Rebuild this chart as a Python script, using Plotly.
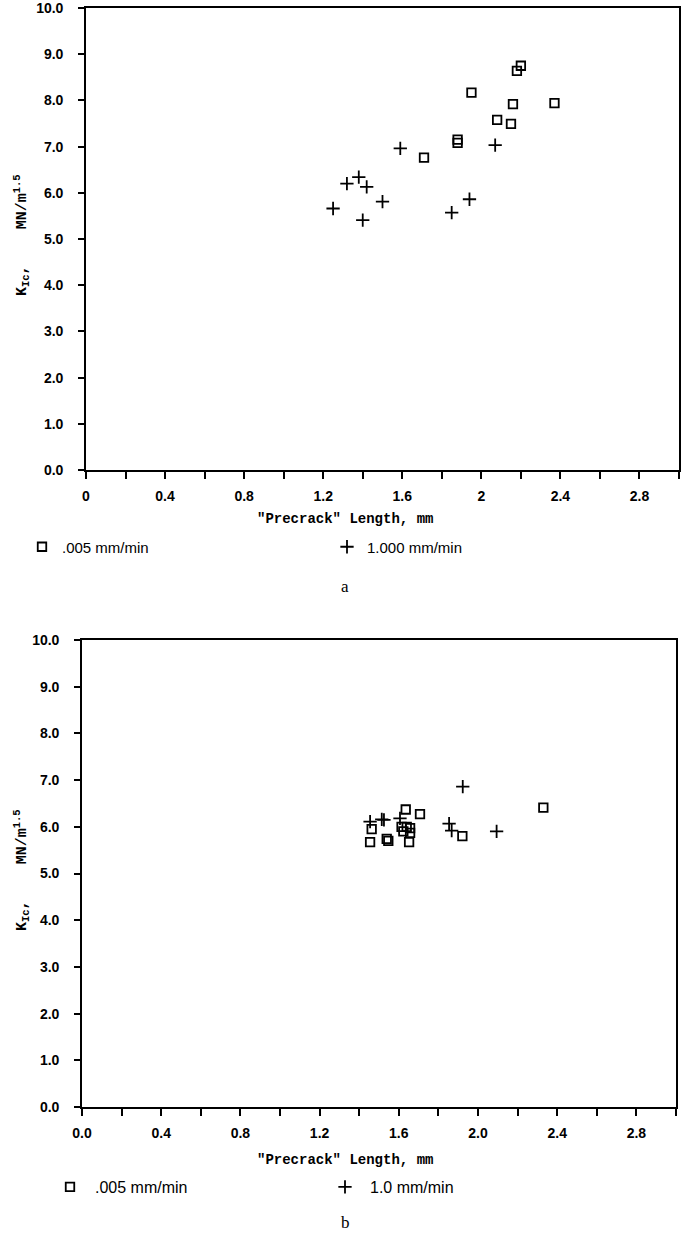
import plotly.graph_objects as go

# ---------------- data ----------------
# panel a
a_sq_x = [2.20, 2.18, 1.95, 2.16, 2.37, 2.08, 2.15, 1.88, 1.88, 1.71]
a_sq_y = [8.75, 8.64, 8.17, 7.92, 7.94, 7.58, 7.49, 7.15, 7.08, 6.76]
a_cr_x = [1.59, 2.07, 1.38, 1.32, 1.42, 1.50, 1.25, 1.40, 1.94, 1.85]
a_cr_y = [6.96, 7.03, 6.34, 6.20, 6.13, 5.81, 5.66, 5.41, 5.86, 5.57]
# panel b
b_sq_x = [2.33, 1.635, 1.707, 1.463, 1.455, 1.539, 1.547, 1.614, 1.64, 1.657, 1.623, 1.657, 1.652, 1.921]
b_sq_y = [6.41, 6.37, 6.27, 5.95, 5.67, 5.74, 5.70, 6.00, 6.00, 5.97, 5.90, 5.87, 5.67, 5.80]
b_cr_x = [1.923, 1.455, 1.514, 1.525, 1.606, 1.854, 1.867, 2.094]
b_cr_y = [6.86, 6.11, 6.16, 6.15, 6.18, 6.07, 5.92, 5.90]

a_names = [".005 mm/min", "1.000 mm/min"]
b_names = [".005 mm/min", "1.0 mm/min"]
x_tickvals = [0, 0.4, 0.8, 1.2, 1.6, 2.0, 2.4, 2.8]
a_ticktext = ["0", "0.4", "0.8", "1.2", "1.6", "2", "2.4", "2.8"]
b_ticktext = ["0.0", "0.4", "0.8", "1.2", "1.6", "2.0", "2.4", "2.8"]
y_tickvals = [0, 1, 2, 3, 4, 5, 6, 7, 8, 9, 10]
x_title = '"Precrack" Length, mm'
y_title = "K<sub>Ic</sub>,    MN/m<sup>1.5</sup>"

# ---------------- layout helpers ----------------
W, H = 684, 1236
L, R, T, B = 82, 5, 8, 129
PW, PH = W - L - R, H - T - B


def px(X):
    return (X - L) / PW


def py(Y):
    return (H - B - Y) / PH


sq_marker = dict(symbol="square-open", size=8.5, color="black", line=dict(width=1.8, color="black"))
cr_marker = dict(symbol="cross-thin-open", size=9.5, color="black", line=dict(width=1.8, color="black"))

fig = go.Figure()
fig.add_trace(go.Scatter(x=a_sq_x, y=a_sq_y, mode="markers", marker=sq_marker, name=a_names[0],
                         xaxis="x", yaxis="y", legend="legend", showlegend=True))
fig.add_trace(go.Scatter(x=a_cr_x, y=a_cr_y, mode="markers", marker=cr_marker, name=a_names[1],
                         xaxis="x", yaxis="y", legend="legend2", showlegend=True))
fig.add_trace(go.Scatter(x=b_sq_x, y=b_sq_y, mode="markers", marker=sq_marker, name=b_names[0],
                         xaxis="x2", yaxis="y2", legend="legend3", showlegend=True))
fig.add_trace(go.Scatter(x=b_cr_x, y=b_cr_y, mode="markers", marker=cr_marker, name=b_names[1],
                         xaxis="x2", yaxis="y2", legend="legend4", showlegend=True))

tickfont = dict(family="Liberation Sans, Arial, sans-serif", size=14, color="black", weight="bold")
common_x = dict(range=[0, 3], showline=True, mirror=True, linecolor="black", linewidth=1.6,
                ticks="outside", ticklen=7, tickwidth=1.5, tickcolor="black",
                tickvals=x_tickvals, showgrid=False, zeroline=False, tickfont=tickfont,
                minor=dict(dtick=0.2, tick0=0, ticks="outside", ticklen=7, tickwidth=1.5,
                           tickcolor="black", showgrid=False),
                ticklabelstandoff=5, ticklabeloverflow="allow")
common_y = dict(range=[0, 10], showline=True, mirror=True, linecolor="black", linewidth=1.6,
                ticks="outside", ticklen=6, tickwidth=1.5, tickcolor="black",
                tickvals=y_tickvals, tickformat=".1f", showgrid=False, zeroline=False,
                tickfont=tickfont, ticklabelstandoff=12, ticklabeloverflow="allow")


def leg(x_px, y_px, size, iw):
    return dict(xref="container", yref="container", x=x_px / W, y=1 - y_px / H,
                xanchor="left", yanchor="middle", itemwidth=iw,
                font=dict(family="Liberation Sans, Arial, sans-serif", size=size, color="black"),
                bgcolor="rgba(0,0,0,0)", borderwidth=0, visible=True)


fig.update_layout(
    width=W, height=H, showlegend=True,
    margin=dict(l=L, r=R, t=T, b=B, autoexpand=False),
    plot_bgcolor="white", paper_bgcolor="white",
    xaxis=dict(domain=[px(86), px(679)], anchor="y", ticktext=a_ticktext, **common_x),
    yaxis=dict(domain=[py(470), py(8)], anchor="x", **common_y),
    xaxis2=dict(domain=[0, px(676)], anchor="y2", ticktext=b_ticktext, **common_x),
    yaxis2=dict(domain=[0, py(640)], anchor="x2", **common_y),
    legend=leg(22, 547, 15, 30),
    legend2=leg(327, 547, 15, 30),
    legend3=leg(45, 1187, 16, 40),
    legend4=leg(320, 1187, 16, 40),
)

mono = dict(family="Liberation Mono, Courier New, monospace", size=14, color="black", weight="bold")
mono_y = dict(family="Liberation Mono, Courier New, monospace", size=15, color="black", weight="bold")
serif = dict(family="Liberation Serif, Times New Roman, serif", size=17, color="black")

annotations = [
    dict(text=x_title, x=px(345), y=py(519), xref="paper", yref="paper", showarrow=False,
         font=mono, xanchor="center", yanchor="middle"),
    dict(text=x_title, x=px(345), y=py(1160), xref="paper", yref="paper", showarrow=False,
         font=mono, xanchor="center", yanchor="middle"),
    dict(text=y_title, x=px(21), y=py(235), xref="paper", yref="paper", showarrow=False,
         font=mono_y, textangle=-90, xanchor="center", yanchor="middle"),
    dict(text=y_title, x=px(21), y=py(870), xref="paper", yref="paper", showarrow=False,
         font=mono_y, textangle=-90, xanchor="center", yanchor="middle"),
    dict(text="a", x=px(345), y=py(586), xref="paper", yref="paper", showarrow=False,
         font=serif, xanchor="center", yanchor="middle"),
    dict(text="b", x=px(345), y=py(1222), xref="paper", yref="paper", showarrow=False,
         font=serif, xanchor="center", yanchor="middle"),
]
fig.update_layout(annotations=annotations)

fig.write_html("out.html", config={"displayModeBar": False},
               post_script="document.body.style.margin='0';")
